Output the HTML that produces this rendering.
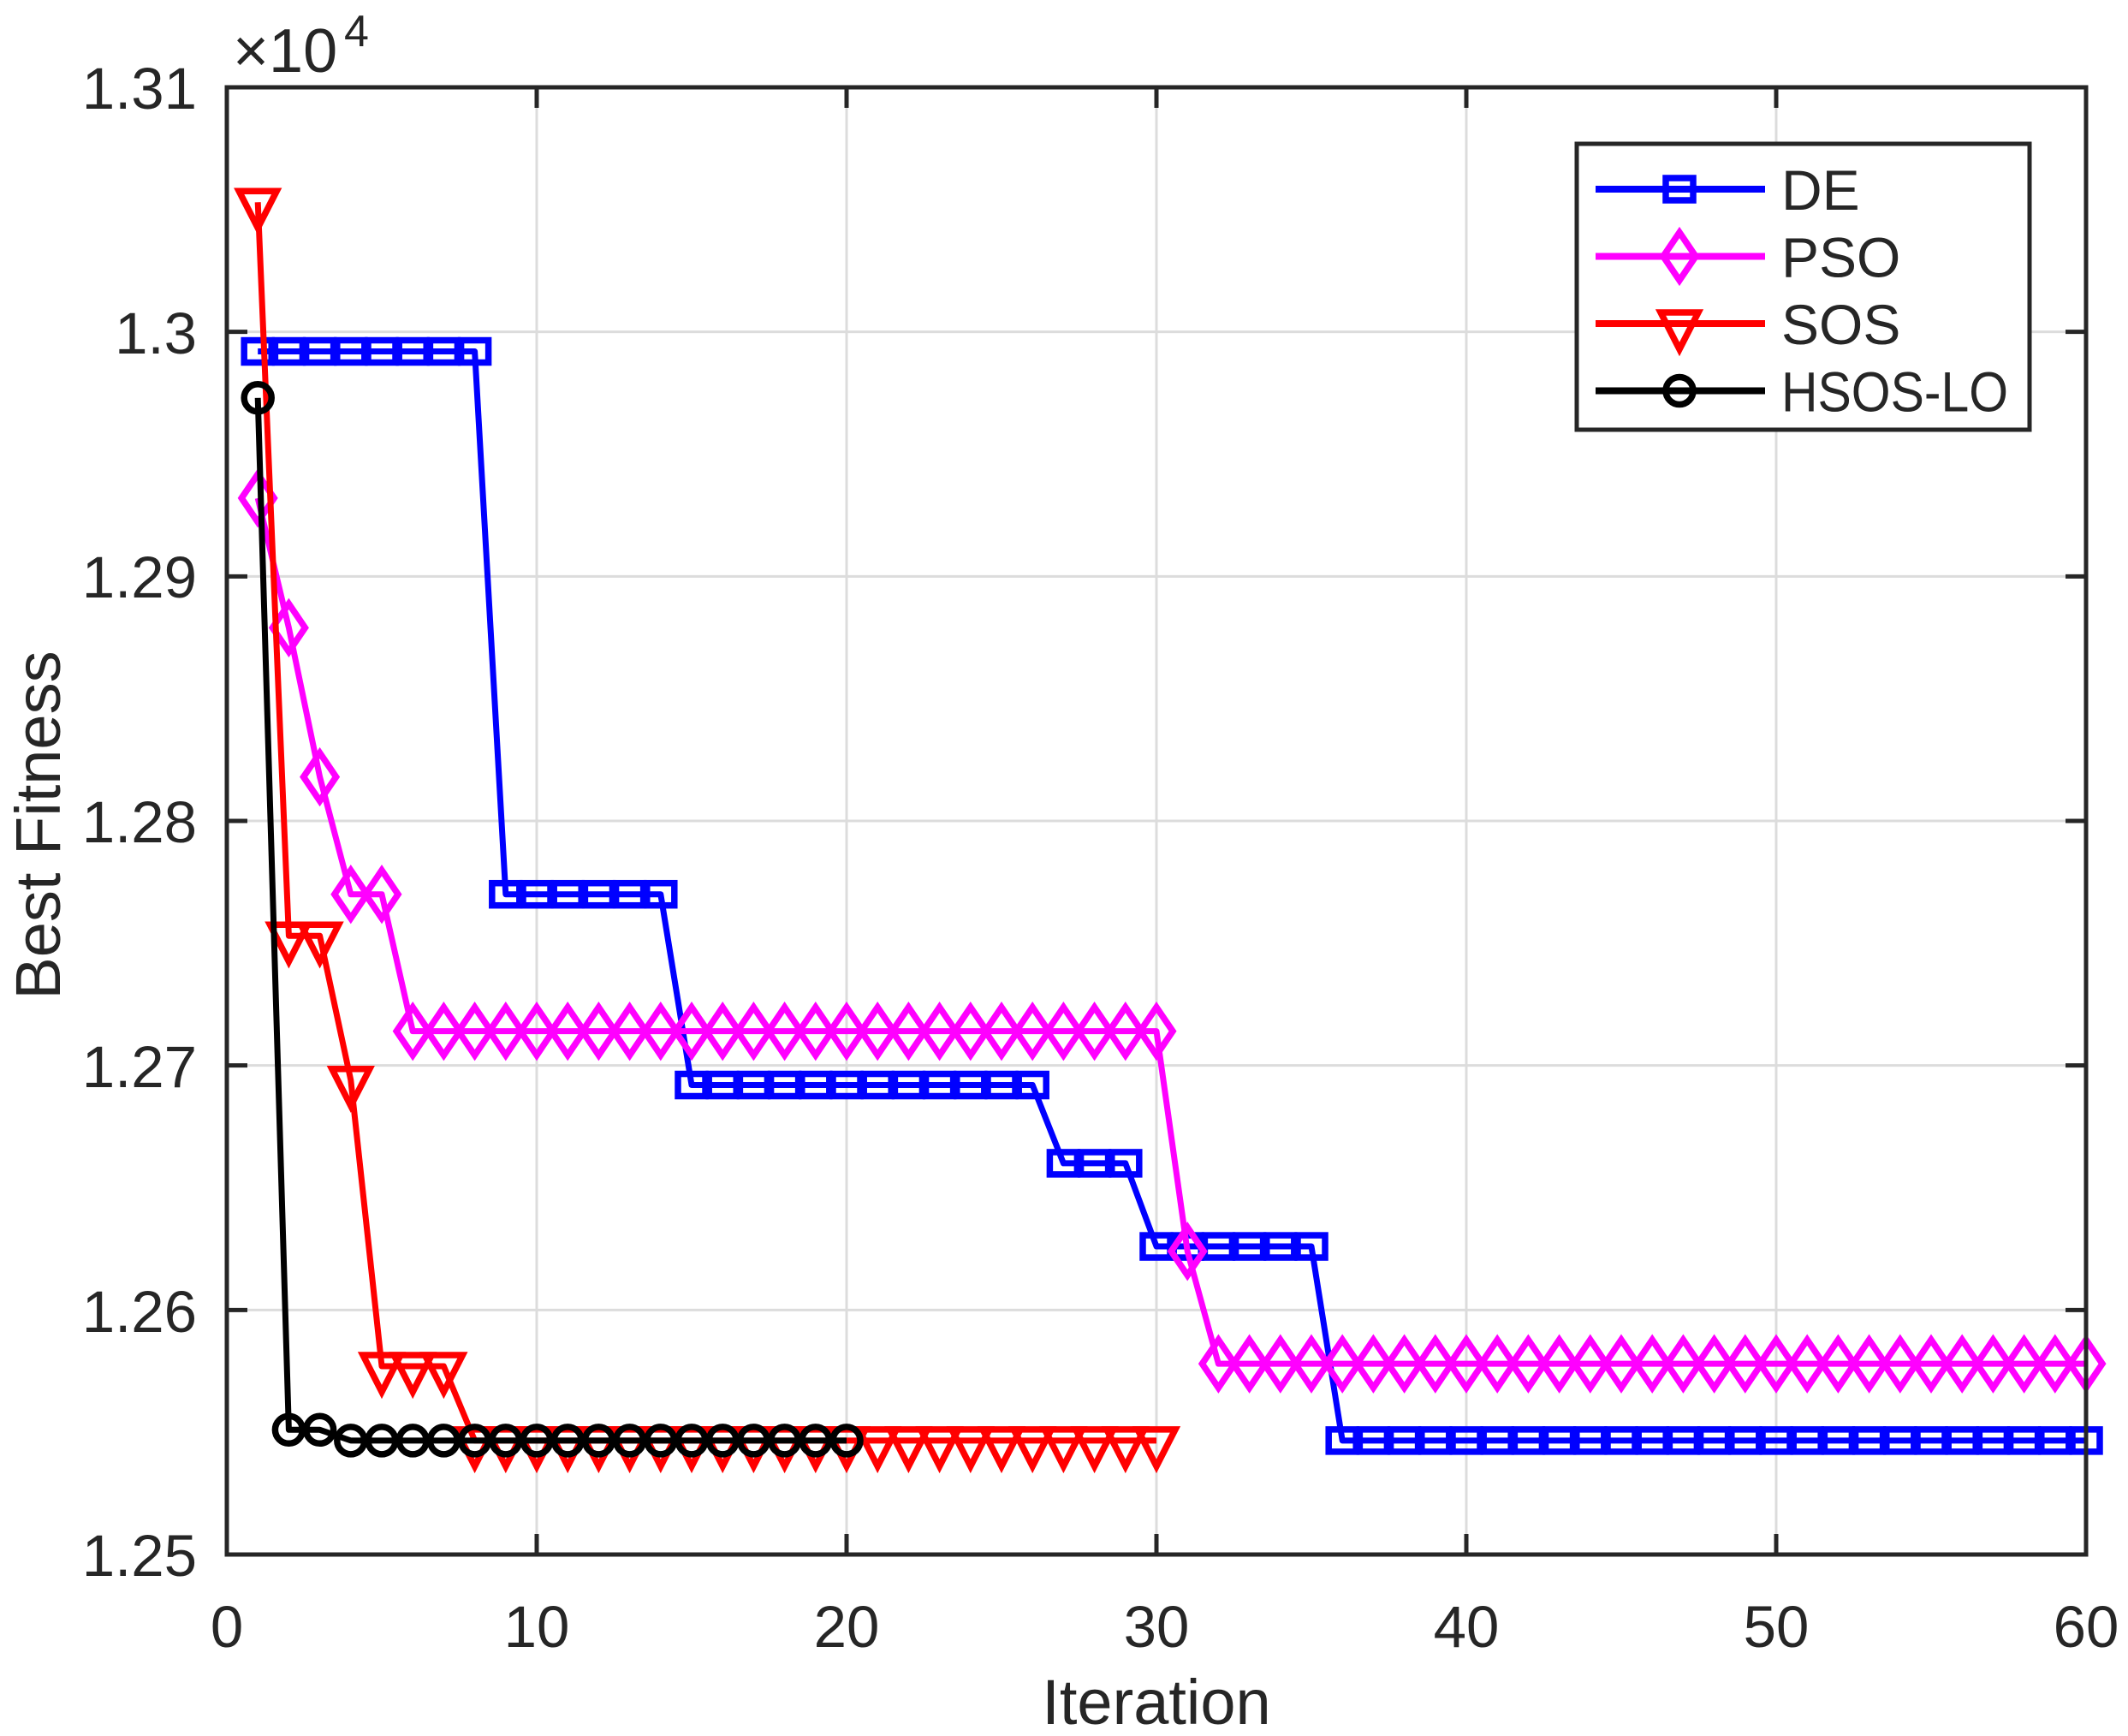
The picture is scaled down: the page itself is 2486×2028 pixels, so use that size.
<!DOCTYPE html>
<html><head><meta charset="utf-8"><style>
html,body{margin:0;padding:0;background:#fff;}
svg{display:block;}
text{font-family:"Liberation Sans",Arial,sans-serif;fill:#262626;}
</style></head><body>
<svg id="s" width="2486" height="2028" viewBox="0 0 2486 2028" xmlns="http://www.w3.org/2000/svg">
<rect width="2486" height="2028" fill="#fff"/>
<g id="grid" stroke="#dcdcdc" stroke-width="3"></g>
<g id="series"></g>
<g id="axes"></g>
<g font-size="69">
<text x="230" y="127" text-anchor="end">1.31</text>
<text x="230" y="413" text-anchor="end">1.3</text>
<text x="230" y="698" text-anchor="end">1.29</text>
<text x="230" y="984" text-anchor="end">1.28</text>
<text x="230" y="1270" text-anchor="end">1.27</text>
<text x="230" y="1556" text-anchor="end">1.26</text>
<text x="230" y="1841" text-anchor="end">1.25</text>
<text x="265" y="1924" text-anchor="middle">0</text>
<text x="627" y="1924" text-anchor="middle">10</text>
<text x="989" y="1924" text-anchor="middle">20</text>
<text x="1351" y="1924" text-anchor="middle">30</text>
<text x="1713" y="1924" text-anchor="middle">40</text>
<text x="2075" y="1924" text-anchor="middle">50</text>
<text x="2437" y="1924" text-anchor="middle">60</text>
</g>
<text x="1351" y="2014" font-size="74" text-anchor="middle">Iteration</text>
<text transform="translate(70,964) rotate(-90)" font-size="74" text-anchor="middle">Best Fitness</text>
<text x="272" y="84" font-size="72">×10</text>
<text x="402" y="54" font-size="52">4</text>
<g id="legend"></g>
</svg>
<script>
var NS="http://www.w3.org/2000/svg";
function el(p,t,a){var e=document.createElementNS(NS,t);for(var k in a)e.setAttribute(k,a[k]);p.appendChild(e);return e;}
var L=265,R=2437,T=102,B=1816;
function X(i){return L+(R-L)*i/60;}
function Y(v){return T+(1.31-v)/0.06*(B-T);}
var g=document.getElementById('grid');
for(var i=10;i<60;i+=10)el(g,'line',{x1:X(i),x2:X(i),y1:T,y2:B});
for(var k=1;k<6;k++){var y=T+k*(B-T)/6;el(g,'line',{x1:L,x2:R,y1:y,y2:y});}
var ax=document.getElementById('axes');
el(ax,'rect',{x:L,y:T,width:R-L,height:B-T,fill:'none',stroke:'#262626','stroke-width':5});
for(var i=0;i<=60;i+=10){el(ax,'line',{x1:X(i),x2:X(i),y1:B,y2:B-24,stroke:'#262626','stroke-width':5});el(ax,'line',{x1:X(i),x2:X(i),y1:T,y2:T+24,stroke:'#262626','stroke-width':5});}
for(var k=0;k<=6;k++){var y=T+k*(B-T)/6;el(ax,'line',{x1:L,x2:L+24,y1:y,y2:y,stroke:'#262626','stroke-width':5});el(ax,'line',{x1:R,x2:R-24,y1:y,y2:y,stroke:'#262626','stroke-width':5});}
function fill(arr,a,b,v){for(var i=a;i<=b;i++)arr[i]=v;}
var de=[],pso=[],sos=[],hs=[];
fill(de,1,8,1.2992);fill(de,9,14,1.2770);fill(de,15,26,1.2692);fill(de,27,29,1.2660);fill(de,30,35,1.2626);fill(de,36,60,1.25466);
pso[1]=1.2932;pso[2]=1.2879;pso[3]=1.2818;pso[4]=1.2770;pso[5]=1.2770;fill(pso,6,30,1.2714);pso[31]=1.2624;fill(pso,32,60,1.2578);
sos[1]=1.3053;sos[2]=1.2753;sos[3]=1.2753;sos[4]=1.2694;fill(sos,5,7,1.2577);fill(sos,8,30,1.25466);
hs[1]=1.2973;hs[2]=1.2551;hs[3]=1.2551;fill(hs,4,20,1.25466);
function marker(p,type,x,y,c){
 var a={fill:'none',stroke:c,'stroke-width':7.5};
 if(type=='s'){a.x=x-16;a.y=y-13;a.width=32;a.height=26;el(p,'rect',a);}
 else if(type=='d'){a.points=[x,y-28,x+19,y,x,y+28,x-19,y].join(' ');el(p,'polygon',a);}
 else if(type=='v'){a.points=[x-22,y-13,x+22,y-13,x,y+30].join(' ');el(p,'polygon',a);}
 else {a.cx=x;a.cy=y;a.r=16;el(p,'circle',a);}
}
var S=document.getElementById('series');
function series(d,c,type){
 var pts=[];for(var i=1;i<d.length;i++)if(d[i]!==undefined)pts.push(X(i)+','+Y(d[i]));
 var g2=el(S,'g',{});
 el(g2,'polyline',{points:pts.join(' '),fill:'none',stroke:c,'stroke-width':7,'stroke-linejoin':'round'});
 for(var i=1;i<d.length;i++)if(d[i]!==undefined)marker(g2,type,X(i),Y(d[i]),c);
}
series(de,'#0000ff','s');series(pso,'#ff00ff','d');series(sos,'#ff0000','v');series(hs,'#000000','o');
var lg=document.getElementById('legend');
el(lg,'rect',{x:1842,y:168,width:529,height:334,fill:'#fff',stroke:'#262626','stroke-width':5});
var items=[['DE','#0000ff','s'],['PSO','#ff00ff','d'],['SOS','#ff0000','v'],['HSOS-LO','#000000','o']];
for(var j=0;j<4;j++){var y=221+j*78.5;
 el(lg,'line',{x1:1864,x2:2062,y1:y,y2:y,stroke:items[j][1],'stroke-width':8});
 marker(lg,items[j][2],1962,y,items[j][1]);
 var t=el(lg,'text',{x:2081,y:y+24,'font-size':66,fill:'#000'});
 if(items[j][0]=='HSOS-LO'){t.setAttribute('textLength','265');t.setAttribute('lengthAdjust','spacingAndGlyphs');}
 t.textContent=items[j][0];}
</script>
</body></html>
